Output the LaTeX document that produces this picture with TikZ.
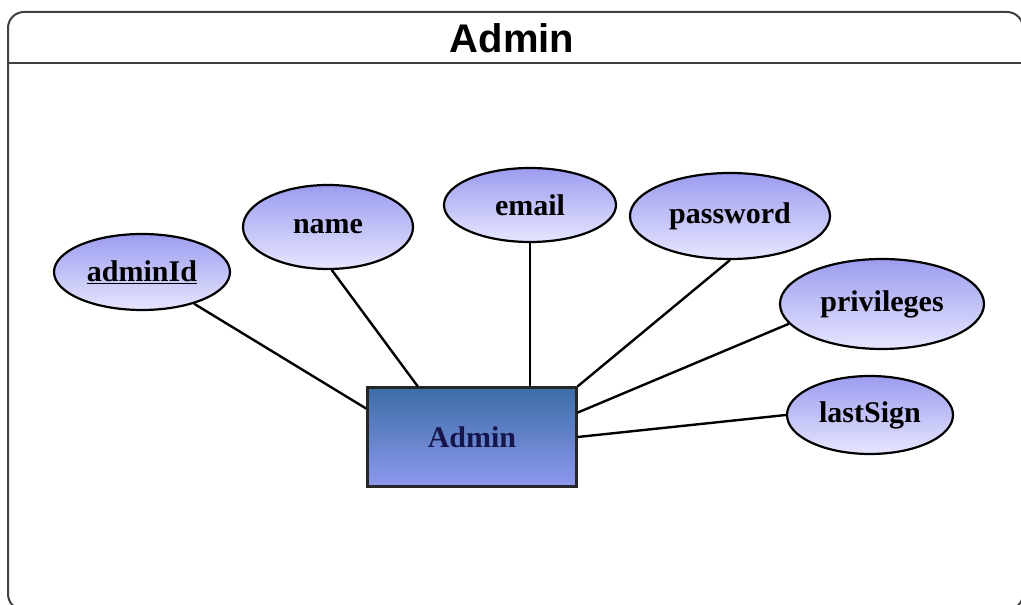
\documentclass[tikz,border=0pt]{standalone}
\usepackage{fontspec}
\setmainfont{Liberation Serif}
\setsansfont{Liberation Sans}
\usetikzlibrary{shapes.geometric}

\definecolor{attrtop}{HTML}{9C9CF0}
\definecolor{attrbot}{HTML}{E6E6FF}
\definecolor{enttop}{HTML}{3B6DA6}
\definecolor{entbot}{HTML}{8E98EE}
\definecolor{enttext}{HTML}{16164A}

\begin{document}
\begin{tikzpicture}[x=1pt,y=1pt,
  attr node/.style={ellipse,draw=black,line width=2.2pt,inner sep=0pt,
    top color=attrtop,bottom color=attrbot,
    font=\fontsize{30}{32}\selectfont\bfseries},
  entity node/.style={rectangle,draw=black!85,line width=2.2pt,inner sep=0pt,
    top color=enttop,bottom color=entbot,text=enttext,
    minimum width=209,minimum height=99,
    font=\fontsize{30}{32}\selectfont\bfseries}]

  \useasboundingbox (0,0) rectangle (1021,605);
  \clip (0,0) rectangle (1021,605);

  % frame and header
  \draw[line width=2pt,draw=black!75,rounded corners=16] (8,-5) rectangle (1023,593);
  \draw[line width=1.8pt,draw=black!75] (8,542) -- (1023,542);
  \node[font=\fontsize{40}{42}\selectfont\sffamily\bfseries] (title) at (512,567) {Admin};

  \node[entity node] (admin) at (472,168) {Admin};

  \node[attr node,minimum width=176,minimum height=76] (id) at (142,333) {\underline{adminId}};
  \node[attr node,minimum width=170,minimum height=84] (name) at (328,378) {name};
  \node[attr node,minimum width=172,minimum height=74] (email) at (530,400) {email};
  \node[attr node,minimum width=200,minimum height=86] (pass) at (730,389) {password};
  \node[attr node,minimum width=204,minimum height=90] (priv) at (882,301) {privileges};
  \node[attr node,minimum width=166,minimum height=78] (last) at (870,190) {lastSign};

  \path[draw,line width=2.4pt]
   (id) edge (admin.165)
   (name.-85) edge (admin.137)
   (email) edge (email |- admin.north)
   (pass.south) edge (admin.north east)
   (priv.192) edge (admin.13)
   (last.west) edge (admin.east);

\end{tikzpicture}
\end{document}
